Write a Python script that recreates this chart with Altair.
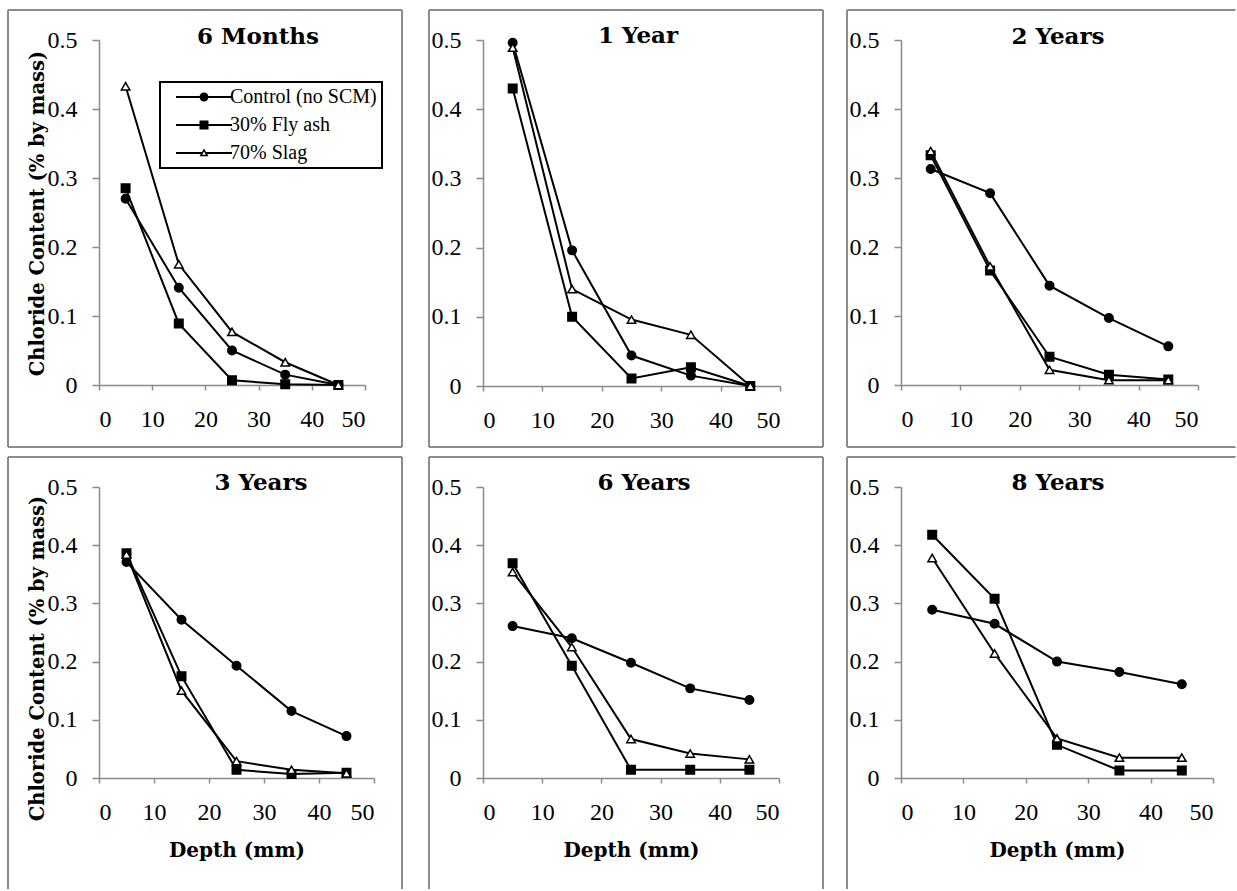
import altair as alt
import pandas as pd

# ---------------- data ----------------
depths = [5, 15, 25, 35, 45]
series_names = ["Control (no SCM)", "30% Fly ash", "70% Slag"]
panel_titles = ["6 Months", "1 Year", "2 Years", "3 Years", "6 Years", "8 Years"]

control = [
    [0.270, 0.141, 0.050, 0.015, 0.000],
    [0.496, 0.196, 0.044, 0.015, 0.000],
    [0.313, 0.278, 0.144, 0.097, 0.056],
    [0.371, 0.272, 0.193, 0.115, 0.072],
    [0.261, 0.240, 0.198, 0.154, 0.134],
    [0.289, 0.265, 0.200, 0.182, 0.161],
]
fly_ash = [
    [0.285, 0.089, 0.007, 0.001, 0.000],
    [0.430, 0.100, 0.011, 0.027, 0.000],
    [0.333, 0.166, 0.041, 0.015, 0.008],
    [0.386, 0.175, 0.014, 0.007, 0.009],
    [0.369, 0.193, 0.014, 0.014, 0.014],
    [0.418, 0.308, 0.057, 0.013, 0.013],
]
slag = [
    [0.433, 0.175, 0.077, 0.033, 0.000],
    [0.489, 0.140, 0.096, 0.074, 0.000],
    [0.339, 0.172, 0.022, 0.007, 0.007],
    [0.384, 0.150, 0.029, 0.014, 0.008],
    [0.354, 0.225, 0.067, 0.042, 0.032],
    [0.378, 0.214, 0.068, 0.035, 0.035],
]
x_ticks = [0, 10, 20, 30, 40, 50]
y_ticks = [0, 0.1, 0.2, 0.3, 0.4, 0.5]
y_title = "Chloride Content (% by mass)"
x_title = "Depth (mm)"

# ---------------- layout (pixels) ----------------
layouts = [
    dict(W=266, H=345, fr=(-91, 303, -30, 407), tt=(159, 4), hide=()),
    dict(W=297, H=346, fr=(-54, 340, -30, 407), tt=(155, 3), hide=()),
    dict(W=297, H=345, fr=(-54, 335, -30, 407), tt=(157, 4), hide=("right",)),
    dict(W=275, H=291, fr=(-91, 303, -30, 402), tt=(162, 3), hide=("bottom",)),
    dict(W=296, H=291, fr=(-54, 340, -30, 402), tt=(161, 3), hide=("bottom",)),
    dict(W=312, H=291, fr=(-54, 335, -30, 402), tt=(157, 3), hide=("bottom", "right")),
]

FRAME = "#8c8c8c"
AXIS = "#8a8a8a"
SERIF = "Liberation Serif"
BOLD = "DejaVu Serif"

# legend symbols drawn as filled outlines: a line bar through the marker
BAR_L = "M-5.6,-0.2H-0.85V0.2H-5.6Z"
BAR_R = "M0.85,-0.2H5.6V0.2H0.85Z"
CIRCLE = BAR_L + BAR_R + "M-0.9,0A0.9,0.9 0 1,1 0.9,0A0.9,0.9 0 1,1 -0.9,0Z"
SQUARE = BAR_L + BAR_R + "M-0.9,-0.9H0.9V0.9H-0.9Z"
TRIANGLE = ("M-5.6,-0.2H-0.45V0.2H-5.6Z" "M0.45,-0.2H5.6V0.2H0.45Z"
            "M0,-0.9L0.9,0.65L-0.9,0.65Z" "M0,-0.3L-0.38,0.35L0.38,0.35Z")


def panel(i):
    L = layouts[i]
    W, H = L["W"], L["H"]
    col = i % 3
    row = i // 3

    rows = []
    for name, vals in zip(series_names, [control[i], fly_ash[i], slag[i]]):
        for d, v in zip(depths, vals):
            rows.append({"depth": d, "value": v, "series": name})
    df = pd.DataFrame(rows)

    if row == 1:
        x_axis = alt.Axis(values=x_ticks, title=x_title, titleY=78, titleBaseline="alphabetic",
                          titleFont=BOLD, titleFontSize=20, titleFontWeight="bold")
    else:
        x_axis = alt.Axis(values=x_ticks, title=None)
    if col == 0:
        ty = 173 if row == 0 else 171
        y_axis = alt.Axis(values=y_ticks, format=".1~f", title=y_title, titleX=-56, titleY=ty,
                          titleAngle=270, titleAlign="center", titleBaseline="alphabetic",
                          titleFont=BOLD, titleFontSize=19.5, titleFontWeight="bold")
    else:
        y_axis = alt.Axis(values=y_ticks, format=".1~f", title=None)

    x = alt.X("depth:Q", scale=alt.Scale(domain=[0, 50], nice=False), axis=x_axis)
    y = alt.Y("value:Q", scale=alt.Scale(domain=[0, 0.5], nice=False), axis=y_axis)

    base = alt.Chart(df)
    lines = base.mark_line(color="black", strokeWidth=2).encode(x=x, y=y, detail="series:N")

    shape = alt.Shape("series:N", scale=alt.Scale(domain=series_names,
                      range=["circle", "square", "triangle-up"]), legend=None)
    fill = alt.Fill("series:N", scale=alt.Scale(domain=series_names,
                    range=["black", "black", "white"]), legend=None)
    pts = base.mark_point(filled=True, size=72, stroke="black", strokeWidth=1.5, opacity=1).encode(
        x=x, y=y, shape=shape, fill=fill)

    one = pd.DataFrame({"k": [0]})
    l, r, t, b = L["fr"]
    edges = {
        "top": dict(x=alt.value(l), x2=alt.value(r), y=alt.value(t)),
        "bottom": dict(x=alt.value(l), x2=alt.value(r), y=alt.value(b)),
        "left": dict(x=alt.value(l), y=alt.value(t), y2=alt.value(b)),
        "right": dict(x=alt.value(r), y=alt.value(t), y2=alt.value(b)),
    }
    frame_layers = []
    for k, enc in edges.items():
        c = "white" if k in L["hide"] else FRAME
        frame_layers.append(alt.Chart(one).mark_rule(color=c, strokeWidth=2).encode(**enc))

    tx, tyy = L["tt"]
    title = alt.Chart(pd.DataFrame({"t": [panel_titles[i]]})).mark_text(
        font=BOLD, fontWeight="bold", fontSize=23, align="center", baseline="alphabetic",
        color="black").encode(text="t:N", x=alt.value(tx), y=alt.value(tyy))

    layers = frame_layers + [lines, pts, title]

    if i == 0:
        leg = alt.Legend(title=None, orient="none", legendX=61, legendY=42, strokeColor="black",
                         fillColor="white", padding=5, symbolSize=100, symbolOffset=29,
                         labelOffset=16, rowPadding=8, labelFont=SERIF, labelFontSize=20,
                         labelColor="black", symbolFillColor="black", symbolStrokeWidth=0,
                         symbolOpacity=1)
        leg_layer = base.transform_filter("false").mark_point(
            filled=True, color="black", opacity=1).encode(
            shape=alt.Shape("series:N", scale=alt.Scale(domain=series_names,
                            range=[CIRCLE, SQUARE, TRIANGLE]), legend=leg),
        )
        layers.append(leg_layer)

    ch = alt.layer(*layers).properties(width=W, height=H)
    if i == 0:
        ch = ch.resolve_scale(shape="independent", fill="independent")
    return ch


def indep(c):
    return c.resolve_scale(shape="independent", fill="independent").resolve_legend(
        shape="independent", fill="independent")


p = [panel(i) for i in range(6)]
row1 = indep(alt.hconcat(indep(alt.hconcat(p[0], p[1], spacing=25)), p[2], spacing=22))
row2 = indep(alt.hconcat(indep(alt.hconcat(p[3], p[4], spacing=25)), p[5], spacing=22))

chart = indep(alt.vconcat(row1, row2, spacing=8)).properties(
    padding={"left": 7, "top": 9, "right": 0, "bottom": 0},
    background="white",
).configure_view(stroke=None).configure_axis(
    grid=False,
    labelFont=SERIF, labelFontSize=24, labelColor="black",
    domainColor=AXIS, tickColor=AXIS, domainWidth=1.5, tickWidth=1.5,
    titleColor="black",
).configure_axisX(
    tickSize=5, labelPadding=36, labelBaseline="alphabetic",
).configure_axisY(
    tickSize=7, labelPadding=15,
).configure_legend(strokeWidth=2)

chart.save("out.html", embed_options={"renderer": "svg", "actions": False})
